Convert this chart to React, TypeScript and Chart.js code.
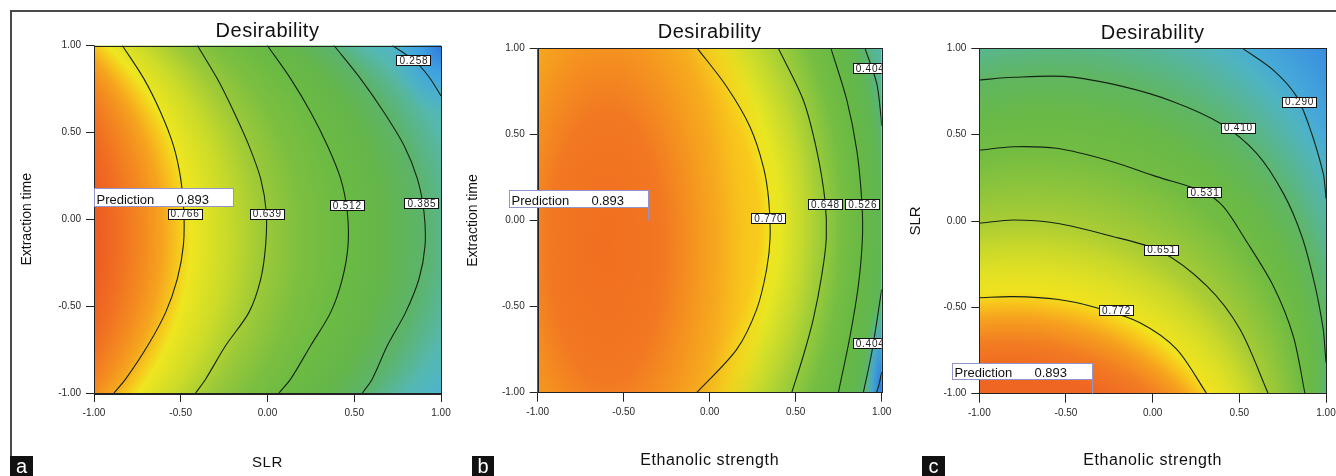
import React, { useEffect, useRef } from "react";
import { Chart, registerables } from "chart.js";

Chart.register(...registerables);

type Pt = { x: number; y: number };
type Circle = { level: number; cx: number; cy: number; r: number };

// ---------------- shared ----------------
const AXIS_MIN = -1;
const AXIS_MAX = 1;
const AXIS_STEP = 0.5;
const CHART_TITLE = "Desirability";
const PREDICTION_TEXT = "Prediction";
const PREDICTION_VALUE = "0.893";
const PANEL_LETTERS = ["a", "b", "c"];

// ---------------- panel a : SLR x Extraction time ----------------
const A_X_TITLE = "SLR";
const A_Y_TITLE = "Extraction time";
const A_CONTOUR_LABELS = ["0.766", "0.639", "0.512", "0.385", "0.258"];
const A_C0766: Pt[] = [
  { x: -0.837, y: 1 }, { x: -0.712, y: 0.808 }, { x: -0.616, y: 0.616 }, { x: -0.542, y: 0.424 },
  { x: -0.5, y: 0.232 }, { x: -0.482, y: 0.04 }, { x: -0.485, y: -0.152 }, { x: -0.52, y: -0.344 },
  { x: -0.587, y: -0.536 }, { x: -0.69, y: -0.727 }, { x: -0.817, y: -0.919 }, { x: -0.885, y: -1 },
];
const A_C0639: Pt[] = [
  { x: -0.404, y: 1 }, { x: -0.289, y: 0.808 }, { x: -0.193, y: 0.616 }, { x: -0.107, y: 0.424 },
  { x: -0.039, y: 0.232 }, { x: -0.007, y: 0.04 }, { x: -0.011, y: -0.152 }, { x: -0.039, y: -0.344 },
  { x: -0.107, y: -0.536 }, { x: -0.241, y: -0.727 }, { x: -0.356, y: -0.919 }, { x: -0.414, y: -1 },
];
const A_C0512: Pt[] = [
  { x: -0.001, y: 1 }, { x: 0.134, y: 0.808 }, { x: 0.249, y: 0.616 }, { x: 0.345, y: 0.424 },
  { x: 0.422, y: 0.232 }, { x: 0.46, y: 0.04 }, { x: 0.464, y: -0.152 }, { x: 0.431, y: -0.344 },
  { x: 0.364, y: -0.536 }, { x: 0.249, y: -0.727 }, { x: 0.134, y: -0.919 }, { x: 0.066, y: -1 },
];
const A_C0385: Pt[] = [
  { x: 0.383, y: 1 }, { x: 0.537, y: 0.808 }, { x: 0.671, y: 0.616 }, { x: 0.787, y: 0.424 },
  { x: 0.864, y: 0.232 }, { x: 0.902, y: 0.04 }, { x: 0.908, y: -0.152 }, { x: 0.873, y: -0.344 },
  { x: 0.796, y: -0.536 }, { x: 0.691, y: -0.727 }, { x: 0.604, y: -0.919 }, { x: 0.547, y: -1 },
];
const A_C0258: Pt[] = [
  { x: 0.72, y: 1 }, { x: 0.85, y: 0.91 }, { x: 0.93, y: 0.82 }, { x: 1.0, y: 0.71 },
];
const A_CONTOURS = [A_C0766, A_C0639, A_C0512, A_C0385, A_C0258];
const A_LABEL_AT: Pt[] = [
  { x: -0.478, y: 0.033 }, { x: -0.004, y: 0.033 }, { x: 0.457, y: 0.083 }, { x: 0.887, y: 0.092 }, { x: 0.841, y: 0.914 },
];
const A_FLAG_BOX = [-1, 0.18, -0.2, 0.076];
const A_FLAG_POINT: Pt | null = null;
const A_GRADIENT_REFS: Circle[] = [
  { level: 0.766, cx: -1.971, cy: -0.1, r: 1.491 },
  { level: 0.385, cx: -0.442, cy: -0.1, r: 1.35 },
];
const A_GRADIENT_RANGE = [0.15, 0.95];
const A_COLOR_LEVELS = [0.2, 0.26, 0.32, 0.385, 0.45, 0.51, 0.58, 0.64, 0.7, 0.755, 0.775, 0.8, 0.83, 0.87, 0.9];
const A_COLORS = [
  "#42a2dc", "#4cb4d0", "#55b8b0", "#5cb46c", "#64b64a", "#6aba44", "#7cbf40", "#9cc938",
  "#cbdb28", "#eee620", "#f6c81c", "#f5a41e", "#f48a20", "#f06e22", "#ee5e22",
];
const A_CORNER_OFFSETS = [0, 0.4, 1];
const A_CORNER_COLORS = ["rgba(48,120,222,1)", "rgba(60,160,226,0.85)", "rgba(70,175,215,0)"];

// ---------------- panel b : Ethanolic strength x Extraction time ----------------
const B_X_TITLE = "Ethanolic strength";
const B_Y_TITLE = "Extraction time";
const B_CONTOUR_LABELS = ["0.770", "0.648", "0.526", "0.404", "0.404", ""];
const B_C0770: Pt[] = [
  { x: -0.072, y: 1 }, { x: 0.099, y: 0.777 }, { x: 0.234, y: 0.545 }, { x: 0.312, y: 0.312 },
  { x: 0.343, y: 0.119 }, { x: 0.351, y: -0.1 }, { x: 0.331, y: -0.283 }, { x: 0.273, y: -0.516 },
  { x: 0.157, y: -0.748 }, { x: -0.076, y: -1 },
];
const B_C0648: Pt[] = [
  { x: 0.399, y: 1 }, { x: 0.544, y: 0.7 }, { x: 0.622, y: 0.409 }, { x: 0.67, y: 0.119 },
  { x: 0.678, y: -0.1 }, { x: 0.651, y: -0.322 }, { x: 0.602, y: -0.574 }, { x: 0.544, y: -0.787 },
  { x: 0.477, y: -1 },
];
const B_C0526: Pt[] = [
  { x: 0.705, y: 1 }, { x: 0.797, y: 0.7 }, { x: 0.855, y: 0.409 }, { x: 0.884, y: 0.119 },
  { x: 0.888, y: -0.1 }, { x: 0.864, y: -0.38 }, { x: 0.816, y: -0.671 }, { x: 0.748, y: -1 },
];
const B_C0404_TOP: Pt[] = [
  { x: 0.903, y: 1 }, { x: 0.971, y: 0.797 }, { x: 0.994, y: 0.622 }, { x: 1.0, y: 0.55 },
];
const B_C0404_BOTTOM: Pt[] = [
  { x: 1.0, y: -0.4 }, { x: 0.994, y: -0.44 }, { x: 0.942, y: -0.768 }, { x: 0.893, y: -1 },
];
const B_C0282: Pt[] = [
  { x: 1.0, y: -0.88 }, { x: 0.985, y: -0.95 }, { x: 0.97, y: -1 },
];
const B_CONTOURS = [B_C0770, B_C0648, B_C0526, B_C0404_TOP, B_C0404_BOTTOM, B_C0282];
const B_LABEL_AT: (Pt | null)[] = [
  { x: 0.341, y: 0.012 }, { x: 0.67, y: 0.095 }, { x: 0.887, y: 0.095 }, { x: 0.93, y: 0.886 }, { x: 0.93, y: -0.713 }, null,
];
const B_FLAG_BOX = [-1.165, 0.177, -0.36, 0.08];
const B_FLAG_POINT: Pt | null = { x: -0.36, y: 0.0 };
const B_GRADIENT_REFS: Circle[] = [
  { level: 0.77, cx: -1.042, cy: -0.02, r: 1.392 },
  { level: 0.526, cx: -2.26, cy: -0.02, r: 3.15 },
];
const B_GRADIENT_RANGE = [0.3, 0.95];
const B_COLOR_LEVELS = [0.3, 0.36, 0.4, 0.42, 0.45, 0.48, 0.52, 0.58, 0.62, 0.68, 0.74, 0.77, 0.8, 0.95];
const B_COLORS = [
  "#2f78e0", "#3a98e0", "#4cb0c8", "#54b6a8", "#58b47c", "#60b652", "#66b846",
  "#76be42", "#90c83c", "#c0d82e", "#e6e622", "#f0e41e", "#f8cc1c", "#f8c41c",
];
const B_CORE_OFFSETS = [0, 0.35, 0.55, 0.7, 0.85, 1];
const B_CORE_COLORS = [
  "rgba(240,110,32,1)", "rgba(242,120,34,1)", "rgba(245,150,31,1)",
  "rgba(246,168,30,0.9)", "rgba(248,192,28,0.5)", "rgba(248,200,28,0)",
];
const B_CORNER_OFFSETS = [0, 0.5, 1];
const B_CORNER_COLORS = ["rgba(40,120,225,1)", "rgba(64,160,222,0.85)", "rgba(80,180,210,0)"];

// ---------------- panel c : Ethanolic strength x SLR ----------------
const C_X_TITLE = "Ethanolic strength";
const C_Y_TITLE = "SLR";
const C_CONTOUR_LABELS = ["0.290", "0.410", "0.531", "0.651", "0.772"];
const C_C0290: Pt[] = [
  { x: 0.519, y: 1 }, { x: 0.696, y: 0.874 }, { x: 0.831, y: 0.72 }, { x: 0.917, y: 0.508 },
  { x: 0.984, y: 0.276 }, { x: 0.994, y: 0.199 }, { x: 1.0, y: 0.13 },
];
const C_C0410: Pt[] = [
  { x: -1, y: 0.816 }, { x: -0.804, y: 0.832 }, { x: -0.496, y: 0.836 }, { x: -0.169, y: 0.778 },
  { x: 0.119, y: 0.691 }, { x: 0.389, y: 0.566 }, { x: 0.6, y: 0.392 }, { x: 0.754, y: 0.16 },
  { x: 0.86, y: -0.087 }, { x: 0.937, y: -0.376 }, { x: 0.984, y: -0.627 }, { x: 0.994, y: -0.743 },
  { x: 1.0, y: -0.82 },
];
const C_C0531: Pt[] = [
  { x: -1, y: 0.41 }, { x: -0.804, y: 0.43 }, { x: -0.554, y: 0.421 }, { x: -0.265, y: 0.353 },
  { x: 0.023, y: 0.257 }, { x: 0.292, y: 0.17 }, { x: 0.408, y: 0.083 }, { x: 0.53, y: -0.1 },
  { x: 0.696, y: -0.376 }, { x: 0.811, y: -0.666 }, { x: 0.879, y: -1 },
];
const C_C0651: Pt[] = [
  { x: -1, y: -0.013 }, { x: -0.804, y: 0.006 }, { x: -0.554, y: -0.013 }, { x: -0.265, y: -0.081 },
  { x: 0.042, y: -0.174 }, { x: 0.312, y: -0.376 }, { x: 0.504, y: -0.627 }, { x: 0.667, y: -1 },
];
const C_C0772: Pt[] = [
  { x: -1, y: -0.444 }, { x: -0.804, y: -0.438 }, { x: -0.554, y: -0.453 }, { x: -0.323, y: -0.502 },
  { x: -0.073, y: -0.589 }, { x: 0.139, y: -0.743 }, { x: 0.312, y: -1 },
];
const C_CONTOURS = [C_C0290, C_C0410, C_C0531, C_C0651, C_C0772];
const C_LABEL_AT: Pt[] = [
  { x: 0.845, y: 0.691 }, { x: 0.492, y: 0.54 }, { x: 0.299, y: 0.166 }, { x: 0.049, y: -0.166 }, { x: -0.211, y: -0.514 },
];
const C_FLAG_BOX = [-1.159, -0.82, -0.352, -0.917];
const C_FLAG_POINT: Pt | null = { x: -0.352, y: -1 };
const C_GRADIENT_REFS: Circle[] = [
  { level: 0.772, cx: -0.8, cy: -1.817, r: 1.38 },
  { level: 0.41, cx: -0.6, cy: -0.758, r: 1.594 },
];
const C_GRADIENT_RANGE = [0.1, 0.95];
const C_COLOR_LEVELS = [0.15, 0.25, 0.29, 0.35, 0.41, 0.47, 0.531, 0.59, 0.651, 0.69, 0.73, 0.765, 0.785, 0.81, 0.85, 0.9];
const C_COLORS = [
  "#3a8ee0", "#46aad8", "#50b4c0", "#58b690", "#60b660", "#68b948", "#72bc42", "#8cc43c",
  "#aacc34", "#c8d82a", "#e0e024", "#f0e21e", "#f8c41c", "#f6a01e", "#f27c22", "#ef6522",
];

// ---------------- layout (styles only) ----------------
const PANELS = [
  {
    left: 0, width: 460, yWidth: 94, top: 45.5, bottom: 393, rightPad: 19,
    titleY: 36.5, xTitle: A_X_TITLE, xTitleY: 466.5, xTitleSize: 15, yTitle: A_Y_TITLE, yTitleX: 27, yTitleSize: 14,
    contours: A_CONTOURS, labels: A_CONTOUR_LABELS, labelAt: A_LABEL_AT, flag: A_FLAG_BOX, flagPoint: A_FLAG_POINT,
    refs: A_GRADIENT_REFS, range: A_GRADIENT_RANGE, colorLevels: A_COLOR_LEVELS, colors: A_COLORS,
    overlays: [
      { cx: 1.0, cy: 1.0, rx: 0.3, ry: 0.4, offsets: A_CORNER_OFFSETS, colors: A_CORNER_COLORS },
    ],
  },
  {
    left: 460, width: 440, yWidth: 77.7, top: 48.3, bottom: 392.7, rightPad: 18.3,
    titleY: 37.5, xTitle: B_X_TITLE, xTitleY: 464.5, xTitleSize: 16, yTitle: B_Y_TITLE, yTitleX: 13, yTitleSize: 14,
    contours: B_CONTOURS, labels: B_CONTOUR_LABELS, labelAt: B_LABEL_AT, flag: B_FLAG_BOX, flagPoint: B_FLAG_POINT,
    refs: B_GRADIENT_REFS, range: B_GRADIENT_RANGE, colorLevels: B_COLOR_LEVELS, colors: B_COLORS,
    overlays: [
      { cx: -0.6, cy: -0.15, rx: 0.95, ry: 2.2, offsets: B_CORE_OFFSETS, colors: B_CORE_COLORS },
      { cx: 1.0, cy: -0.97, rx: 0.1, ry: 0.5, offsets: B_CORNER_OFFSETS, colors: B_CORNER_COLORS },
    ],
  },
  {
    left: 900, width: 436, yWidth: 79.3, top: 48.3, bottom: 393.7, rightPad: 10,
    titleY: 38.5, xTitle: C_X_TITLE, xTitleY: 465, xTitleSize: 16, yTitle: C_Y_TITLE, yTitleX: 15.5, yTitleSize: 15,
    contours: C_CONTOURS, labels: C_CONTOUR_LABELS, labelAt: C_LABEL_AT, flag: C_FLAG_BOX, flagPoint: C_FLAG_POINT,
    refs: C_GRADIENT_REFS, range: C_GRADIENT_RANGE, colorLevels: C_COLOR_LEVELS, colors: C_COLORS, overlays: [],
  },
];
const LETTER_BOXES = [
  { left: 10, width: 23 },
  { left: 472, width: 22 },
  { left: 922, width: 23 },
];

const FONT = '"Liberation Sans", Arial, sans-serif';

function circleAt(refs: Circle[], level: number) {
  const [a, b] = refs;
  const t = (level - a.level) / (b.level - a.level);
  return {
    cx: a.cx + t * (b.cx - a.cx),
    cy: a.cy + t * (b.cy - a.cy),
    r: a.r + t * (b.r - a.r),
  };
}

function makePlugin(p: any) {
  return {
    id: "surface",
    beforeDatasetsDraw(chart: any) {
      const { ctx, chartArea: ca } = chart;
      const xs = chart.scales.x;
      const ys = chart.scales.y;
      const X = (v: number) => xs.getPixelForValue(v);
      const Y = (v: number) => ys.getPixelForValue(v);
      const ppu = (X(1) - X(-1)) / 2;
      const ppuY = (Y(-1) - Y(1)) / 2;
      ctx.save();
      ctx.beginPath();
      ctx.rect(ca.left, ca.top, ca.right - ca.left, ca.bottom - ca.top);
      ctx.clip();
      ctx.fillStyle = "#6cba44";
      ctx.fillRect(ca.left, ca.top, ca.right - ca.left, ca.bottom - ca.top);
      const [lo, hi] = p.range;
      const c0 = circleAt(p.refs, lo);
      const c1 = circleAt(p.refs, hi);
      const g = ctx.createRadialGradient(X(c0.cx), Y(c0.cy), Math.max(0.1, c0.r * ppu), X(c1.cx), Y(c1.cy), Math.max(0.1, c1.r * ppu));
      p.colorLevels.forEach((L: number, i: number) => {
        const t = (L - lo) / (hi - lo);
        if (t >= 0 && t <= 1) g.addColorStop(t, p.colors[i]);
      });
      ctx.fillStyle = g;
      ctx.fillRect(ca.left, ca.top, ca.right - ca.left, ca.bottom - ca.top);
      for (const o of p.overlays) {
        ctx.save();
        ctx.translate(X(o.cx), Y(o.cy));
        ctx.scale(o.rx * ppu, o.ry * ppuY);
        const og = ctx.createRadialGradient(0, 0, 0, 0, 0, 1);
        o.offsets.forEach((t: number, i: number) => og.addColorStop(t, o.colors[i]));
        ctx.fillStyle = og;
        ctx.beginPath();
        ctx.arc(0, 0, 1, 0, Math.PI * 2);
        ctx.fill();
        ctx.restore();
      }
      ctx.restore();
    },
    afterDraw(chart: any) {
      const { ctx, chartArea: ca } = chart;
      const xs = chart.scales.x;
      const ys = chart.scales.y;
      const X = (v: number) => xs.getPixelForValue(v);
      const Y = (v: number) => ys.getPixelForValue(v);

      // contour labels (clipped to plot)
      ctx.save();
      ctx.beginPath();
      ctx.rect(ca.left, ca.top, ca.right - ca.left, ca.bottom - ca.top);
      ctx.clip();
      ctx.font = `10px ${FONT}`;
      (ctx as any).letterSpacing = "0.8px";
      ctx.textAlign = "center";
      ctx.textBaseline = "middle";
      p.labels.forEach((lab: string, i: number) => {
        const at = p.labelAt[i];
        if (!lab || !at) return;
        const cx = X(at.x);
        const cy = Y(at.y);
        const w = 34;
        const h = 10;
        const l = Math.round(cx - w / 2) + 0.5;
        const t = Math.round(cy - h / 2) + 0.5;
        ctx.fillStyle = "#ffffff";
        ctx.fillRect(l, t, w, h);
        ctx.strokeStyle = "#111";
        ctx.lineWidth = 1;
        ctx.strokeRect(l, t, w, h);
        ctx.fillStyle = "#222";
        ctx.fillText(lab, cx + 0.5, cy + 1);
      });
      ctx.restore();

      // plot frame
      ctx.save();
      ctx.strokeStyle = "#222";
      ctx.lineWidth = 1;
      ctx.strokeRect(Math.round(ca.left) + 0.5, Math.round(ca.top) + 0.5, Math.round(ca.right - ca.left), Math.round(ca.bottom - ca.top));
      ctx.restore();

      // prediction flag
      ctx.save();
      const [fl, ft, fr, fb] = p.flag;
      const L = Math.round(X(fl)) + 0.5;
      const T = Math.round(Y(ft)) + 0.5;
      const R = Math.round(X(fr)) + 0.5;
      const B = Math.round(Y(fb)) + 0.5;
      ctx.fillStyle = "#ffffff";
      ctx.fillRect(L, T, R - L, B - T);
      ctx.strokeStyle = "#9494cc";
      ctx.lineWidth = 1;
      ctx.strokeRect(L, T, R - L, B - T);
      if (p.flagPoint) {
        ctx.beginPath();
        ctx.moveTo(R, B);
        ctx.lineTo(Math.round(X(p.flagPoint.x)) + 0.5, Y(p.flagPoint.y));
        ctx.stroke();
      }
      ctx.fillStyle = "#111";
      ctx.font = `13px ${FONT}`;
      ctx.textAlign = "left";
      ctx.textBaseline = "alphabetic";
      ctx.fillText(PREDICTION_TEXT, L + 2, B - 3);
      ctx.fillText(PREDICTION_VALUE, L + 82, B - 3);
      ctx.restore();

      // titles
      ctx.save();
      ctx.fillStyle = "#111";
      ctx.textAlign = "center";
      ctx.textBaseline = "alphabetic";
      ctx.font = `20px ${FONT}`;
      (ctx as any).letterSpacing = "0.5px";
      ctx.fillText(CHART_TITLE, (ca.left + ca.right) / 2, p.titleY);
      (ctx as any).letterSpacing = "0.6px";
      ctx.font = `${p.xTitleSize}px ${FONT}`;
      ctx.fillText(p.xTitle, (ca.left + ca.right) / 2, p.xTitleY);
      ctx.translate(p.yTitleX, (ca.top + ca.bottom) / 2);
      ctx.rotate(-Math.PI / 2);
      ctx.font = `${p.yTitleSize}px ${FONT}`;
      ctx.textBaseline = "middle";
      (ctx as any).letterSpacing = "0px";
      ctx.fillText(p.yTitle, 0, 0);
      ctx.restore();
    },
  };
}

function Panel({ p }: { p: any }) {
  const ref = useRef<HTMLCanvasElement>(null);
  useEffect(() => {
    const canvas = ref.current!;
    const tickFont = { family: FONT, size: 10 };
    const fmt = (v: any) => Number(v).toFixed(2);
    const chart = new Chart(canvas, {
      type: "scatter",
      data: {
        datasets: p.contours.map((pts: Pt[]) => ({
          data: pts,
          showLine: true,
          borderColor: "#142414",
          borderWidth: 1.1,
          pointRadius: 0,
          pointHoverRadius: 0,
          tension: 0.3,
          fill: false,
        })),
      },
      options: {
        animation: false,
        responsive: false,
        maintainAspectRatio: false,
        events: [],
        layout: { padding: { left: 0, top: p.top, right: p.rightPad, bottom: 0 } },
        plugins: { legend: { display: false }, tooltip: { enabled: false }, title: { display: false } },
        scales: {
          x: {
            type: "linear",
            min: AXIS_MIN,
            max: AXIS_MAX,
            ticks: { stepSize: AXIS_STEP, callback: fmt, font: tickFont, color: "#2a2a2a", padding: 5, maxRotation: 0, autoSkip: false },
            grid: { drawOnChartArea: false, drawTicks: true, tickLength: 9, color: "#222", lineWidth: 1 },
            border: { display: true, color: "#222", width: 1 },
            afterFit: (s: any) => {
              s.height = 476 - p.bottom;
              s.paddingLeft = 0;
              s.paddingRight = 0;
            },
          },
          y: {
            type: "linear",
            min: AXIS_MIN,
            max: AXIS_MAX,
            ticks: { stepSize: AXIS_STEP, callback: fmt, font: tickFont, color: "#2a2a2a", padding: 5, autoSkip: false },
            grid: { drawOnChartArea: false, drawTicks: true, tickLength: 8, color: "#222", lineWidth: 1 },
            border: { display: true, color: "#222", width: 1 },
            afterFit: (s: any) => {
              s.width = p.yWidth;
              s.paddingTop = 0;
              s.paddingBottom = 0;
            },
          },
        },
      },
      plugins: [makePlugin(p)],
    } as any);
    return () => chart.destroy();
  }, []);
  return (
    <canvas
      ref={ref}
      width={p.width}
      height={476}
      style={{ position: "absolute", left: p.left, top: 0, width: p.width, height: 476 }}
    />
  );
}

export default function App() {
  return (
    <div style={{ position: "absolute", left: 0, top: 0, width: 1336, height: 476, background: "#ffffff", overflow: "hidden" }}>
      {PANELS.map((p, i) => (
        <Panel key={i} p={p} />
      ))}
      <div style={{ position: "absolute", left: 10, top: 10, width: 1326, height: 0, borderTop: "2px solid #4a4a4a" }} />
      <div style={{ position: "absolute", left: 10, top: 10, width: 0, height: 466, borderLeft: "2px solid #4a4a4a" }} />
      {LETTER_BOXES.map((b, i) => (
        <div
          key={i}
          style={{
            position: "absolute", left: b.left, top: 456, width: b.width, height: 20, background: "#111",
            color: "#fff", fontFamily: FONT, fontSize: 20, lineHeight: "20px", textAlign: "center",
          }}
        >
          {PANEL_LETTERS[i]}
        </div>
      ))}
    </div>
  );
}
